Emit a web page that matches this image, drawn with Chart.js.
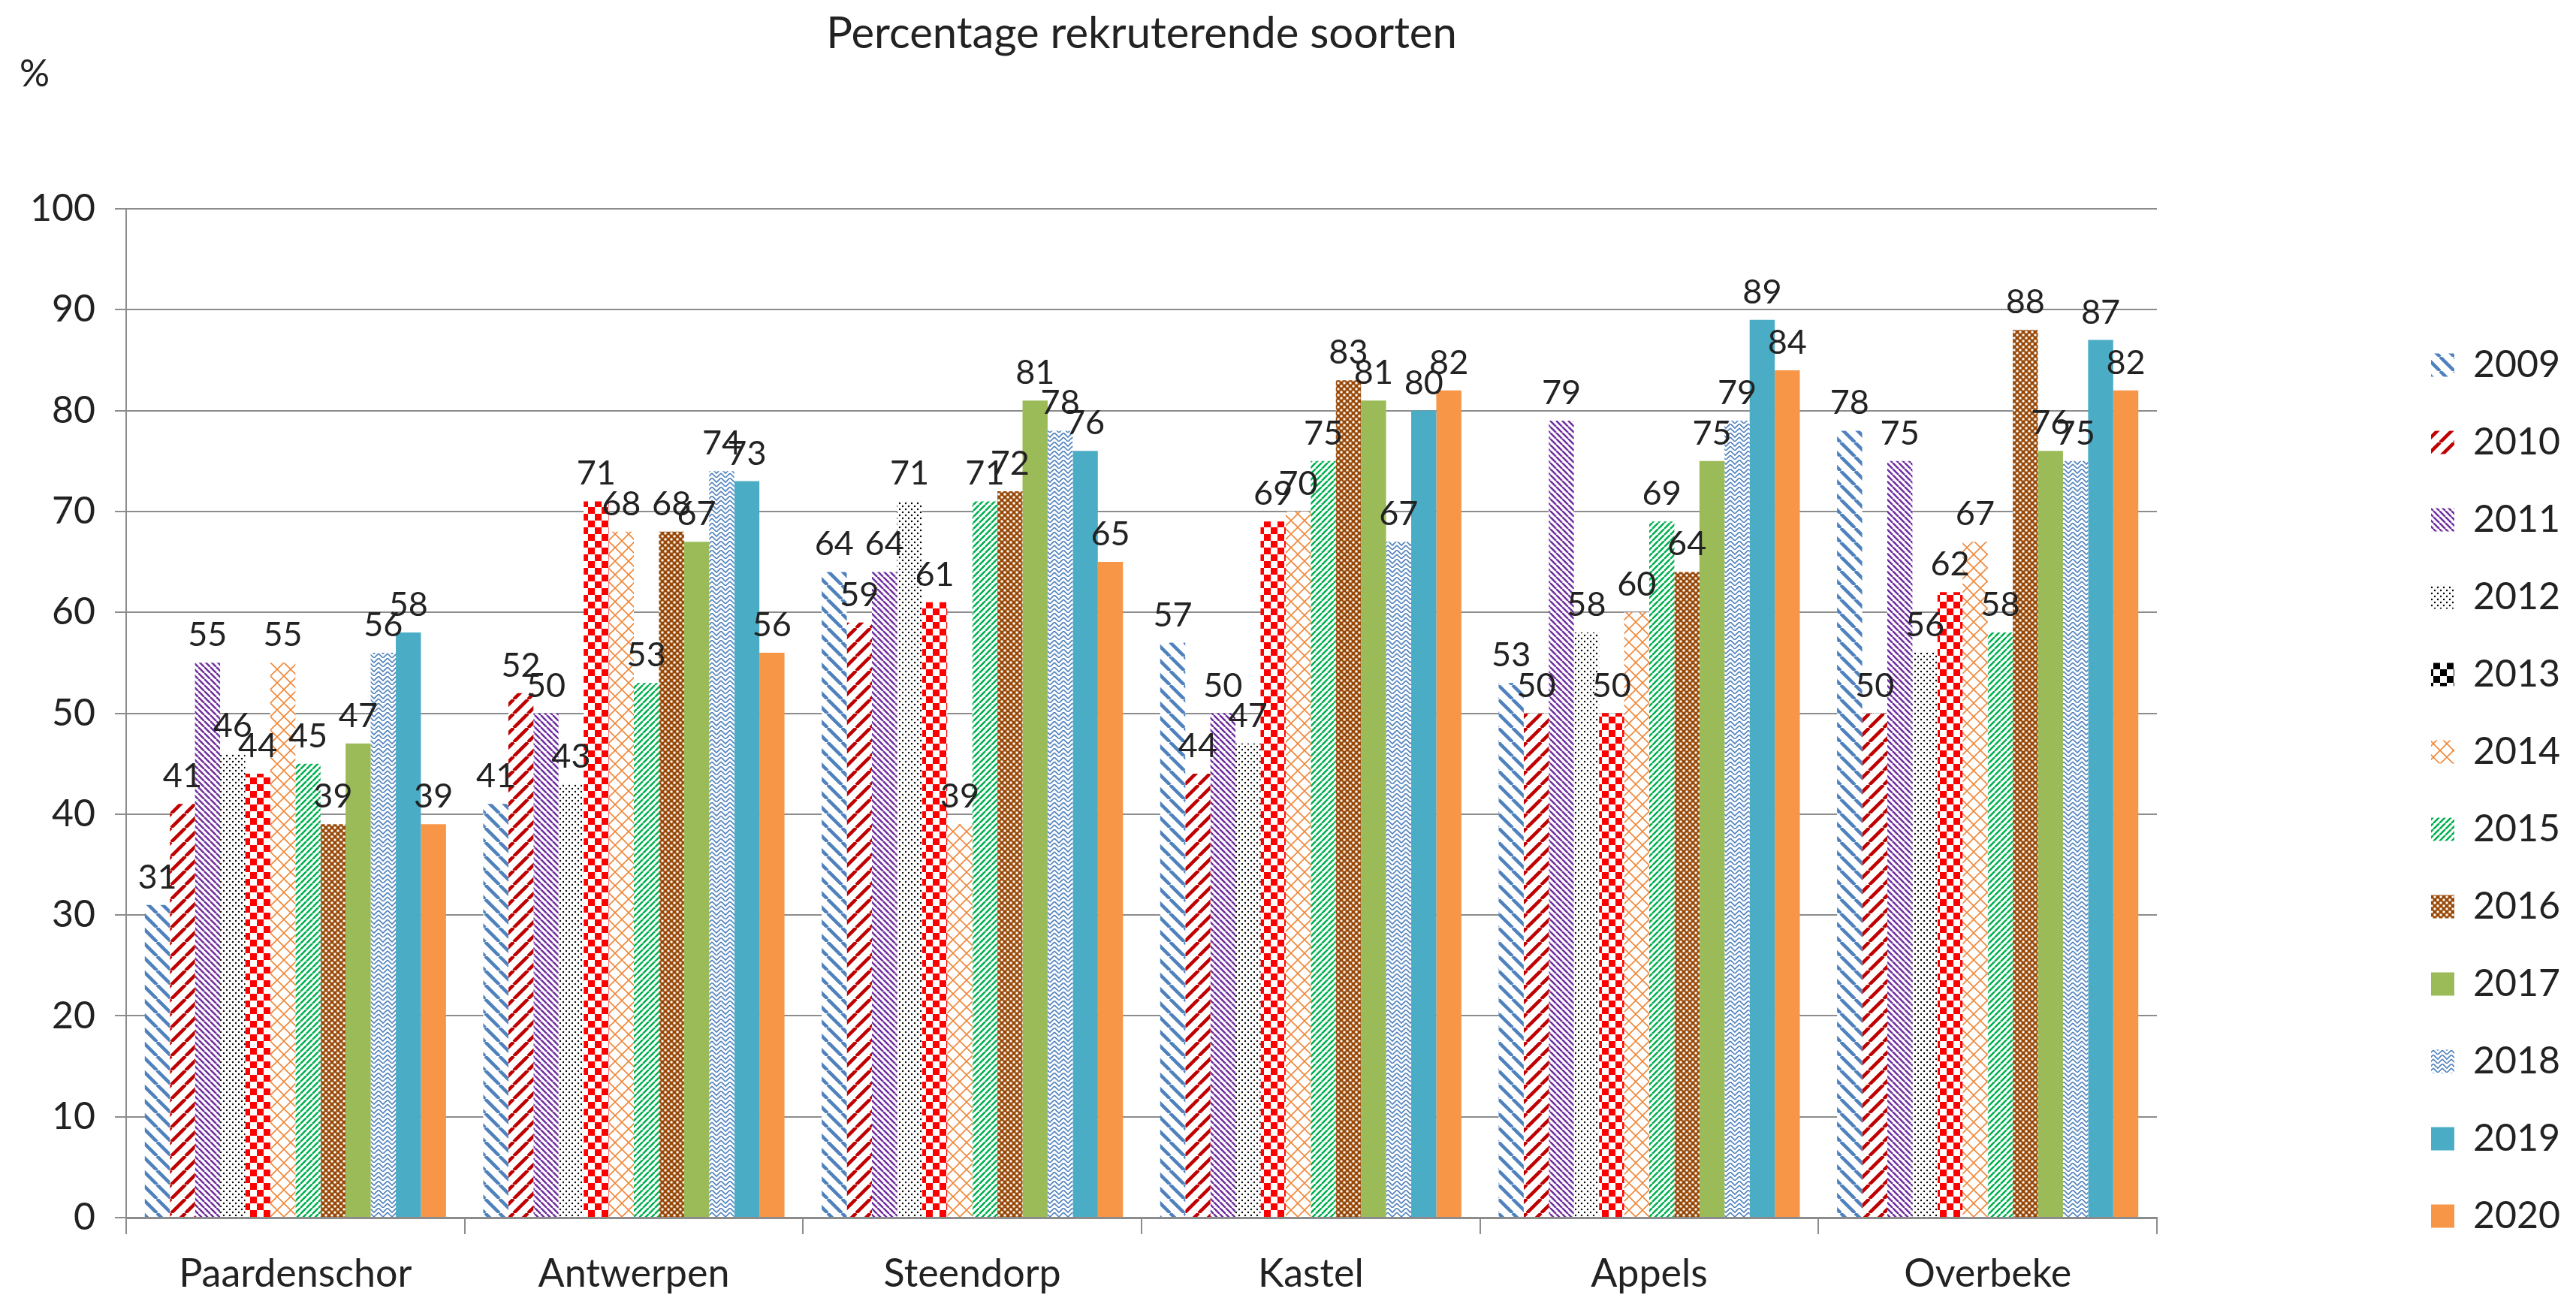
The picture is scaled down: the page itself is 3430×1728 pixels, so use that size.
<!DOCTYPE html>
<html>
<head>
<meta charset="utf-8">
<title>Percentage rekruterende soorten</title>
<script src="https://cdn.jsdelivr.net/npm/chart.js@4.4.1/dist/chart.umd.min.js"></script>
<style>
    html, body { margin: 0; padding: 0; background: #ffffff; }
    #wrap { width: 3430px; height: 1728px; }
</style>
</head>
<body>
<div id="wrap"><canvas id="chart" width="3430" height="1728"></canvas></div>
<script>
const chartTitle = 'Percentage rekruterende soorten';
const unitLabel = '%';
const categories = ['Paardenschor', 'Antwerpen', 'Steendorp', 'Kastel', 'Appels', 'Overbeke'];
const years = ['2009', '2010', '2011', '2012', '2013', '2014', '2015', '2016', '2017', '2018', '2019', '2020'];

// one array per year, values per site (left to right)
const v2009 = [31, 41, 64, 57, 53, 78];
const v2010 = [41, 52, 59, 44, 50, 50];
const v2011 = [55, 50, 64, 50, 79, 75];
const v2012 = [46, 43, 71, 47, 58, 56];
const v2013 = [44, 71, 61, 69, 50, 62];
const v2014 = [55, 68, 39, 70, 60, 67];
const v2015 = [45, 53, 71, 75, 69, 58];
const v2016 = [39, 68, 72, 83, 64, 88];
const v2017 = [47, 67, 81, 81, 75, 76];
const v2018 = [56, 74, 78, 67, 79, 75];
const v2019 = [58, 73, 76, 80, 89, 87];
const v2020 = [39, 56, 65, 82, 84, 82];
const seriesValues = [v2009, v2010, v2011, v2012, v2013, v2014, v2015, v2016, v2017, v2018, v2019, v2020];

const yTicks = { min: 0, max: 100, step: 10 };

const FONT = 'Lato';
const TEXT = '#222222';
const GRID = '#8c8c8c';

// --- fill patterns (Excel style) ---
function makePattern(size, paint) {
    const c = document.createElement('canvas');
    c.width = size;
    c.height = size;
    const g = c.getContext('2d');
    g.fillStyle = '#ffffff';
    g.fillRect(0, 0, size, size);
    paint(g, size);
    return g.createPattern(c, 'repeat');
}

function diagonal(color, size, width, down) {
    return makePattern(size, (g, s) => {
        g.strokeStyle = color;
        g.lineWidth = width;
        g.beginPath();
        for (const o of [-s, 0, s]) {
            if (down) {
                g.moveTo(o, 0);
                g.lineTo(o + s, s);
            } else {
                g.moveTo(o, s);
                g.lineTo(o + s, 0);
            }
        }
        g.stroke();
    });
}

function dots(color, size, r) {
    return makePattern(size, (g, s) => {
        g.fillStyle = color;
        for (const [x, y] of [[s / 4, s / 4], [3 * s / 4, 3 * s / 4]]) {
            g.beginPath();
            g.arc(x, y, r, 0, Math.PI * 2);
            g.fill();
        }
    });
}

function checker(color, size) {
    return makePattern(size, (g, s) => {
        g.fillStyle = color;
        g.fillRect(0, 0, s / 2, s / 2);
        g.fillRect(s / 2, s / 2, s / 2, s / 2);
    });
}

function lattice(color, size, width) {
    return makePattern(size, (g, s) => {
        g.strokeStyle = color;
        g.lineWidth = width;
        g.beginPath();
        for (const o of [-s, 0, s]) {
            g.moveTo(o, 0);
            g.lineTo(o + s, s);
            g.moveTo(o, s);
            g.lineTo(o + s, 0);
        }
        g.stroke();
    });
}

function smallGrid(color, size) {
    return makePattern(size, (g, s) => {
        g.fillStyle = color;
        g.fillRect(0, 0, s, s);
        g.fillStyle = '#ffffff';
        g.fillRect(0.5, 0.5, s / 2 - 1, s / 2 - 1);
        g.fillRect(s / 2 + 0.5, s / 2 + 0.5, s / 2 - 1, s / 2 - 1);
    });
}

function weave(color, size, width) {
    return makePattern(size, (g, s) => {
        g.strokeStyle = color;
        g.lineWidth = width;
        const h = s / 2;
        g.beginPath();
        g.moveTo(0, 0); g.lineTo(h, h); g.lineTo(s, 0);
        g.moveTo(0, h); g.lineTo(h, s); g.lineTo(s, h);
        g.stroke();
    });
}

const fills = [
    diagonal('#4f81bd', 19, 4.5, true),
    diagonal('#c00000', 19, 4.5, false),
    diagonal('#7030a0', 8, 2.6, true),
    dots('#000000', 8, 1.2),
    checker('#ff0000', 18),
    lattice('#f0883a', 18, 1.6),
    diagonal('#00b050', 8, 2.6, false),
    smallGrid('#984807', 8),
    '#9bbb59',
    weave('#4f81bd', 12, 1.6),
    '#4bacc6',
    '#f79646'
];
const legend2013 = checker('#000000', 18);

// --- value labels above the bars ---
const barValueLabels = {
    id: 'barValueLabels',
    afterDatasetsDraw(chart) {
        const ctx = chart.ctx;
        ctx.save();
        ctx.font = '45px ' + FONT;
        ctx.fillStyle = TEXT;
        ctx.textAlign = 'center';
        ctx.textBaseline = 'bottom';
        chart.data.datasets.forEach((ds, i) => {
            chart.getDatasetMeta(i).data.forEach((bar, j) => {
                ctx.fillText(String(ds.data[j]), bar.x, bar.y - 14);
            });
        });
        ctx.restore();
    }
};

// the Excel legend sits well right of the plot and lower down
const LEGEND_BOX_LEFT = 3237;
const LEGEND_DROP = 130;
const legendNudge = {
    id: 'legendNudge',
    afterLayout(chart) {
        const lg = chart.legend;
        if (!lg) return;
        const dx = LEGEND_BOX_LEFT - (lg.left + lg.options.labels.padding);
        lg.left += dx;
        lg.right += dx;
        lg.top += LEGEND_DROP;
        lg.bottom += LEGEND_DROP;
    }
};

const datasets = years.map((y, i) => ({
    label: y,
    data: seriesValues[i],
    backgroundColor: fills[i],
    borderWidth: 0,
    categoryPercentage: 0.89,
    barPercentage: 1.0
}));

new Chart(document.getElementById('chart'), {
    type: 'bar',
    data: { labels: categories, datasets: datasets },
    plugins: [barValueLabels, legendNudge],
    options: {
        responsive: false,
        animation: false,
        devicePixelRatio: 1,
        layout: { padding: { left: 26, right: 323, top: 0, bottom: 0 } },
        plugins: {
            title: {
                display: true,
                text: chartTitle,
                fullSize: false,
                color: TEXT,
                font: { family: FONT, size: 58, weight: 'normal', lineHeight: 1 },
                padding: { top: 16, bottom: 0 }
            },
            subtitle: {
                display: true,
                text: unitLabel,
                align: 'start',
                color: TEXT,
                font: { family: FONT, size: 50, weight: 'normal', lineHeight: 1 },
                padding: { top: 0, bottom: 154 }
            },
            legend: {
                position: 'right',
                align: 'start',
                fullSize: false,
                labels: {
                    boxWidth: 31,
                    boxHeight: 31,
                    padding: 53,
                    color: TEXT,
                    font: { family: FONT, size: 50 },
                    generateLabels(chart) {
                        const items = Chart.defaults.plugins.legend.labels.generateLabels(chart);
                        items[4].fillStyle = legend2013;
                        return items;
                    }
                }
            },
            tooltip: { enabled: false }
        },
        scales: {
            x: {
                grid: { drawOnChartArea: false, drawTicks: true, tickLength: 22, color: GRID, lineWidth: 2 },
                border: { color: GRID, width: 3 },
                ticks: { color: TEXT, font: { family: FONT, size: 52 }, padding: 22, maxRotation: 0, autoSkip: false },
                afterFit(scale) { scale.height = 107; }
            },
            y: {
                min: yTicks.min,
                max: yTicks.max,
                ticks: { stepSize: yTicks.step, color: TEXT, font: { family: FONT, size: 50 }, padding: 26 },
                grid: { color: GRID, lineWidth: 2, tickLength: 15 },
                border: { color: GRID, width: 2 },
                afterFit(scale) { scale.width = 142; }
            }
        }
    }
});
</script>
</body>
</html>
